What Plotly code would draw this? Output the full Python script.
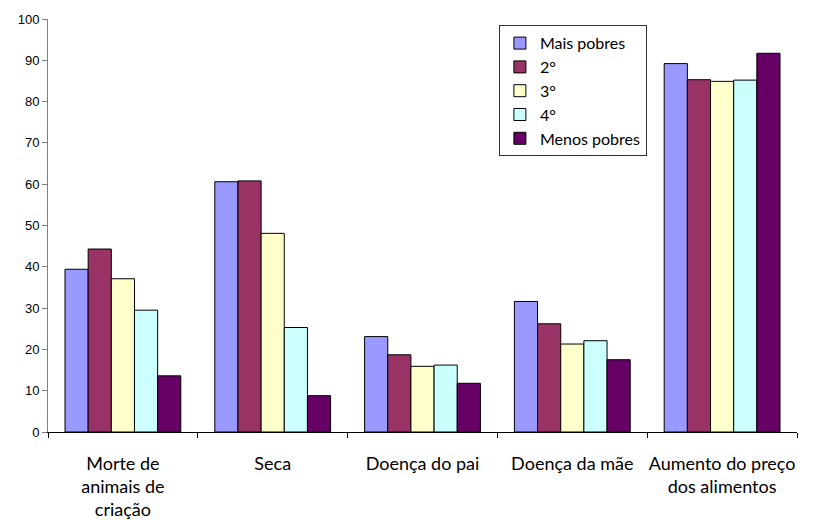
import plotly.graph_objects as go

# Categories (x axis labels) and series values (%)
categories = [
    "Morte de<br>animais de<br>criação",
    "Seca",
    "Doença do pai",
    "Doença da mãe",
    "Aumento do preço<br>dos alimentos",
]
series_names = ["Mais pobres", "2°", "3°", "4°", "Menos pobres"]
mais_pobres = [39.4, 60.6, 23.1, 31.6, 89.2]
segundo = [44.3, 60.8, 18.7, 26.2, 85.3]
terceiro = [37.1, 48.1, 15.9, 21.3, 84.9]
quarto = [29.5, 25.3, 16.2, 22.1, 85.2]
menos_pobres = [13.6, 8.8, 11.8, 17.5, 91.7]
y_ticks = [0, 10, 20, 30, 40, 50, 60, 70, 80, 90, 100]

series_values = [mais_pobres, segundo, terceiro, quarto, menos_pobres]
colors = ["#9999FF", "#993366", "#FFFFCC", "#CCFFFF", "#660066"]

fig = go.Figure()
for name, vals, col in zip(series_names, series_values, colors):
    fig.add_trace(go.Bar(
        x=categories, y=vals, name=name,
        marker=dict(color=col, line=dict(color="#000000", width=1)),
    ))

label_font = dict(family="Lato, 'Open Sans', sans-serif", size=18, color="#000000")
legend_font = dict(family="Lato, 'Open Sans', sans-serif", size=16, color="#000000")

fig.update_layout(
    width=836, height=520,
    margin=dict(l=48, r=39, t=19, b=88, autoexpand=False),
    paper_bgcolor="white", plot_bgcolor="white",
    barmode="group", bargap=0.227, bargroupgap=0,
    showlegend=True,
    legend=dict(
        x=0.602, y=0.985, xanchor="left", yanchor="top",
        bgcolor="white", bordercolor="#333333", borderwidth=1,
        font=legend_font, traceorder="normal", itemwidth=30,
        tracegroupgap=0,
    ),
    xaxis=dict(
        type="category", tickson="boundaries", tickangle=0, automargin=False,
        ticks="outside", ticklen=5, tickcolor="#000000",
        showline=True, linecolor="#000000", linewidth=1,
        showgrid=False, tickfont=label_font, ticklabelstandoff=15,
    ),
    yaxis=dict(
        range=[0, 100], tickvals=y_ticks, automargin=False,
        ticks="outside", ticklen=5, tickcolor="#808080",
        showline=True, linecolor="#808080", linewidth=1,
        showgrid=False, zeroline=False,
        tickfont=dict(family="Liberation Sans, Arial, sans-serif", size=13, color="#000000"),
    ),
)

fig.write_html("out.html")
